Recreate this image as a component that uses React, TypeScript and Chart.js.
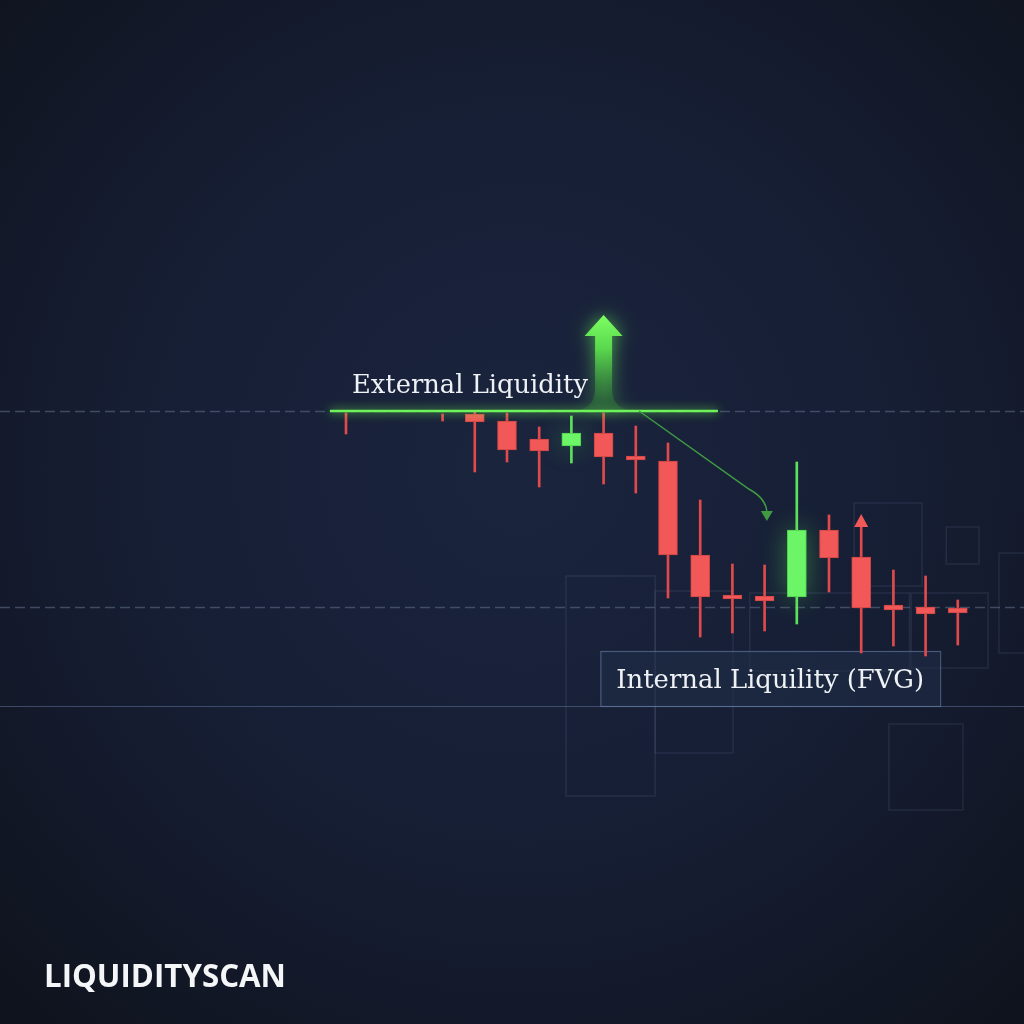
import React, { useEffect, useRef } from "react";
import { Chart, registerables } from "chart.js";

Chart.register(...registerables);

// ---- data (prices) ----
const candleSlots = [0, 1, 2, 3, 4, 5, 6, 7, 8, 9, 10, 11, 12, 13, 14, 15, 16, 17, 18, 19];
const opens = [99.8, null, null, 99.7, 99.7, 99.0, 97.2, 96.5, 97.8, 95.5, 95.0, 85.6, 81.6, 81.5, 81.4, 88.1, 85.4, 80.6, 80.4, 80.3];
const highs = [99.8, null, null, 99.7, 99.9, 99.8, 98.4, 99.5, 99.8, 98.5, 96.8, 91.1, 84.7, 84.6, 94.9, 89.6, 88.4, 84.1, 83.5, 81.1];
const lows = [97.7, null, null, 99.0, 93.9, 94.9, 92.4, 94.8, 92.7, 91.8, 81.3, 77.4, 77.8, 78.0, 78.7, 81.9, 75.8, 76.5, 75.5, 76.6];
const closes = [99.8, null, null, 99.7, 98.9, 96.1, 96.0, 97.8, 95.4, 95.1, 85.6, 81.4, 81.2, 81.0, 88.1, 85.3, 80.3, 80.1, 79.7, 79.8];

const externalLevel = 100.0;
const fvgLevel = 80.4;
const baseLevel = 70.5;
const externalLabel = "External Liquidity";
const internalLabel = "Internal Liquility (FVG)";
const brandLabel = "LIQUIDITYSCAN";

// annotation anchors (in index / price units)
const levelLineFrom = -0.5;
const levelLineTo = 11.55;
const upArrowIndex = 8;
const upArrowTip = 109.6;
const curveFrom = [9.1, externalLevel];
const curveTo = [13.07, 90.0];
const fvgBox = [7.9, 18.45, 76.0, baseLevel];
// decorative zones [x0, x1, yTop, yBottom] in index / price units
const zones = [
  [6.83, 9.6, 83.5, 61.5],
  [9.6, 12.02, 82.0, 65.8],
  [12.54, 17.5, 81.8, 74.0],
  [17.55, 19.94, 81.8, 74.3],
  [15.78, 17.89, 90.8, 82.5],
  [18.64, 19.66, 88.4, 84.7],
  [20.28, 21.5, 85.8, 75.8],
  [16.86, 19.16, 68.7, 60.1],
];

const RED = "#f25858";
const RED_WICK = "#e04a4c";
const GREEN = "#6cf566";
const GREEN_WICK = "#5fe05c";

function fitFont(ctx: CanvasRenderingContext2D, text: string, family: string, weight: string, target: number) {
  ctx.font = `${weight} 30px ${family}`;
  const w = ctx.measureText(text).width;
  const size = (30 * target) / w;
  ctx.font = `${weight} ${size.toFixed(2)}px ${family}`;
}

export default function App() {
  const ref = useRef<HTMLCanvasElement | null>(null);

  useEffect(() => {
    const canvas = ref.current;
    if (!canvas) return;

    const bodies: any[] = [];
    const wicks: any[] = [];
    const bodyColors: string[] = [];
    const wickColors: string[] = [];
    candleSlots.forEach((i) => {
      const o = opens[i], h = highs[i], l = lows[i], c = closes[i];
      if (o == null || h == null || l == null || c == null) return;
      const up = c > o;
      wicks.push({ x: i, y: [l, h] });
      wickColors.push(up ? GREEN_WICK : RED_WICK);
      if (Math.abs(o - c) > 0.05) {
        bodies.push({ x: i, y: [Math.min(o, c), Math.max(o, c)] });
        bodyColors.push(up ? GREEN : RED);
      }
    });

    const serif = "'DejaVu Serif', 'Liberation Serif', serif";

    const bgPlugin = {
      id: "bg",
      beforeDraw(chart: any) {
        const { ctx, width, height, scales } = chart;
        const x = scales.x, y = scales.y;
        ctx.save();
        const g = ctx.createRadialGradient(520, 470, 30, 520, 470, 740);
        g.addColorStop(0, "#1a243d");
        g.addColorStop(0.5, "#161e34");
        g.addColorStop(1, "#0f131d");
        ctx.fillStyle = g;
        ctx.fillRect(0, 0, width, height);

        // decorative zones
        ctx.strokeStyle = "rgba(120,140,175,0.15)";
        ctx.lineWidth = 1.5;
        zones.forEach((z) => {
          const x0 = x.getPixelForValue(z[0]);
          const x1 = x.getPixelForValue(z[1]);
          const y0 = y.getPixelForValue(z[2]);
          const y1 = y.getPixelForValue(z[3]);
          ctx.strokeRect(x0, y0, x1 - x0, y1 - y0);
        });

        // dashed levels
        ctx.setLineDash([10, 5]);
        ctx.strokeStyle = "rgba(100,115,140,0.55)";
        ctx.lineWidth = 1.5;
        [externalLevel, fvgLevel].forEach((p) => {
          const py = Math.round(y.getPixelForValue(p)) + 0.5;
          ctx.beginPath();
          ctx.moveTo(0, py);
          ctx.lineTo(width, py);
          ctx.stroke();
        });
        ctx.setLineDash([]);
        // solid base line
        const by = Math.round(y.getPixelForValue(baseLevel)) + 0.5;
        ctx.strokeStyle = "rgba(95,115,155,0.55)";
        ctx.lineWidth = 1;
        ctx.beginPath();
        ctx.moveTo(0, by);
        ctx.lineTo(width, by);
        ctx.stroke();

        // FVG box
        const bx0 = x.getPixelForValue(fvgBox[0]);
        const bx1 = x.getPixelForValue(fvgBox[1]);
        const by0 = y.getPixelForValue(fvgBox[2]);
        const by1 = y.getPixelForValue(fvgBox[3]);
        ctx.fillStyle = "rgba(32,46,72,0.55)";
        ctx.fillRect(bx0, by0, bx1 - bx0, by1 - by0);
        ctx.strokeStyle = "rgba(110,135,175,0.55)";
        ctx.lineWidth = 1.2;
        ctx.strokeRect(bx0 + 0.5, by0 + 0.5, bx1 - bx0, by1 - by0);
        ctx.restore();
      },
      beforeDatasetsDraw(chart: any) {
        const { ctx } = chart;
        const meta = chart.getDatasetMeta(1);
        ctx.save();
        meta.data.forEach((el: any, k: number) => {
          if (bodyColors[k] !== GREEN) return;
          const p = el.getProps(["x", "y", "base", "width"], true);
          ctx.shadowColor = "rgba(100,255,90,0.75)";
          ctx.shadowBlur = 26;
          ctx.fillStyle = "rgba(100,240,100,0.5)";
          const top = Math.min(p.y, p.base);
          ctx.fillRect(p.x - p.width / 2, top, p.width, Math.abs(p.base - p.y));
        });
        ctx.restore();
      },
      afterDatasetsDraw(chart: any) {
        const { ctx, scales } = chart;
        const x = scales.x, y = scales.y;
        ctx.save();
        const ly = y.getPixelForValue(externalLevel);

        // up arrow
        const ax = x.getPixelForValue(upArrowIndex);
        const tipY = y.getPixelForValue(upArrowTip);
        const headBase = tipY + 21;
        const shaftHalf = 8.5;
        const headHalf = 19;
        const flare = 28;
        const ag = ctx.createLinearGradient(0, tipY, 0, ly);
        ag.addColorStop(0, "#7dff62");
        ag.addColorStop(0.35, "#5ad84e");
        ag.addColorStop(1, "rgba(40,110,50,0.35)");
        ctx.shadowColor = "rgba(110,255,90,0.6)";
        ctx.shadowBlur = 18;
        ctx.fillStyle = ag;
        ctx.beginPath();
        ctx.moveTo(ax, tipY);
        ctx.lineTo(ax + headHalf, headBase);
        ctx.lineTo(ax + shaftHalf, headBase);
        ctx.lineTo(ax + shaftHalf, ly - 22);
        ctx.quadraticCurveTo(ax + shaftHalf, ly, ax + flare + 6, ly);
        ctx.lineTo(ax - flare - 6, ly);
        ctx.quadraticCurveTo(ax - shaftHalf, ly, ax - shaftHalf, ly - 22);
        ctx.lineTo(ax - shaftHalf, headBase);
        ctx.lineTo(ax - headHalf, headBase);
        ctx.closePath();
        ctx.fill();

        // green level line
        ctx.shadowColor = "rgba(120,255,80,0.9)";
        ctx.shadowBlur = 10;
        ctx.strokeStyle = "#6ef25a";
        ctx.lineWidth = 2.5;
        ctx.beginPath();
        ctx.moveTo(x.getPixelForValue(levelLineFrom), ly);
        ctx.lineTo(x.getPixelForValue(levelLineTo), ly);
        ctx.stroke();
        ctx.shadowBlur = 0;

        // curved arrow
        const c0x = x.getPixelForValue(curveFrom[0]);
        const c0y = y.getPixelForValue(curveFrom[1]);
        const c1x = x.getPixelForValue(curveTo[0]);
        const c1y = y.getPixelForValue(curveTo[1]);
        ctx.strokeStyle = "#3f9a42";
        ctx.lineWidth = 1.5;
        ctx.beginPath();
        ctx.moveTo(c0x, c0y);
        ctx.lineTo(c1x - 18, c1y - 22);
        ctx.quadraticCurveTo(c1x, c1y - 12, c1x, c1y + 2);
        ctx.stroke();
        ctx.fillStyle = "#3f9a42";
        ctx.beginPath();
        ctx.moveTo(c1x - 6, c1y);
        ctx.lineTo(c1x + 6, c1y);
        ctx.lineTo(c1x, c1y + 10);
        ctx.closePath();
        ctx.fill();

        // up arrow on candle 16
        const rx = x.getPixelForValue(16);
        const rTop = y.getPixelForValue(highs[16] as number) - 13;
        ctx.fillStyle = RED;
        ctx.beginPath();
        ctx.moveTo(rx, rTop);
        ctx.lineTo(rx + 7, rTop + 13);
        ctx.lineTo(rx - 7, rTop + 13);
        ctx.closePath();
        ctx.fill();

        // texts
        ctx.fillStyle = "#eef1f5";
        ctx.textBaseline = "alphabetic";
        ctx.textAlign = "left";
        fitFont(ctx, externalLabel, serif, "400", 236);
        ctx.fillText(externalLabel, x.getPixelForValue(0) + 6, ly - 18);

        const bx0 = x.getPixelForValue(fvgBox[0]);
        const bx1 = x.getPixelForValue(fvgBox[1]);
        const by0 = y.getPixelForValue(fvgBox[2]);
        const by1 = y.getPixelForValue(fvgBox[3]);
        fitFont(ctx, internalLabel, serif, "400", 308);
        ctx.textAlign = "center";
        ctx.fillText(internalLabel, (bx0 + bx1) / 2, (by0 + by1) / 2 + 9);

        fitFont(ctx, brandLabel, "'Open Sans', 'DejaVu Sans', sans-serif", "700", 242);
        ctx.textAlign = "left";
        ctx.fillStyle = "#f4f6f8";
        ctx.fillText(brandLabel, 44, 987);
        ctx.restore();
      },
    };

    const chart = new Chart(canvas, {
      type: "bar",
      data: {
        datasets: [
          {
            data: wicks,
            backgroundColor: wickColors,
            barThickness: 2,
            grouped: false,
            borderWidth: 0,
            order: 2,
          } as any,
          {
            data: bodies,
            backgroundColor: bodyColors,
            borderColor: bodyColors.map((c) => (c === GREEN ? "#4fcf50" : "#cc4444")),
            borderWidth: 1,
            borderSkipped: false,
            barThickness: 19,
            grouped: false,
            order: 1,
          } as any,
        ],
      },
      options: {
        responsive: false,
        maintainAspectRatio: false,
        animation: false,
        events: [],
        layout: { padding: 0 },
        plugins: { legend: { display: false }, tooltip: { enabled: false } },
        scales: {
          x: { type: "linear", min: -10.745, max: 21.056, offset: false, display: false },
          y: { type: "linear", min: 38.7, max: 141.1, display: false },
        },
      },
      plugins: [bgPlugin],
    });
    return () => chart.destroy();
  }, []);

  return (
    <div style={{ position: "fixed", left: 0, top: 0, width: 1024, height: 1024 }}>
      <canvas ref={ref} width={1024} height={1024} style={{ display: "block" }} />
    </div>
  );
}
